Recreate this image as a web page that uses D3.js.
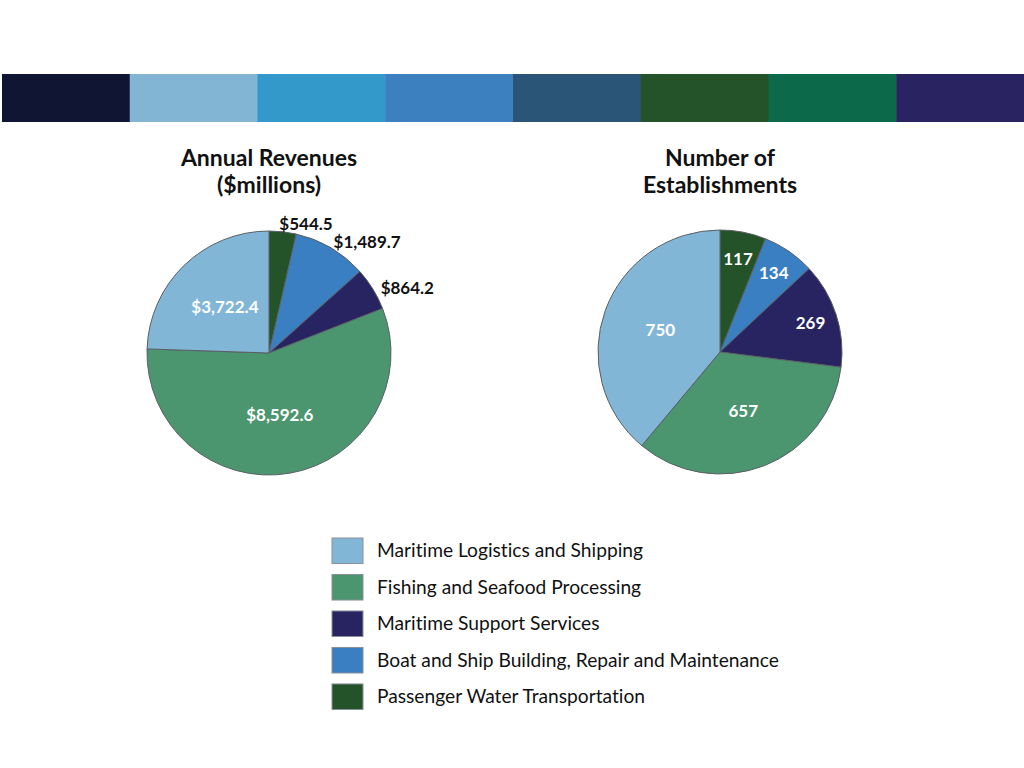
<!DOCTYPE html>
<html><head><meta charset="utf-8">
<script src="https://cdn.jsdelivr.net/npm/d3@7"></script>
<style>html,body{margin:0;padding:0;background:#fff;}svg{display:block;}text{font-variant-ligatures:none;font-feature-settings:"liga" 0;}</style>
</head><body>
<svg id="chart" width="1024" height="768"></svg>
<script>
const categories = ["Passenger Water Transportation","Boat and Ship Building, Repair and Maintenance","Maritime Support Services","Fishing and Seafood Processing","Maritime Logistics and Shipping"];
const revenues = [544.5, 1489.7, 864.2, 8592.6, 3722.4];
const revenueLabels = ["$544.5","$1,489.7","$864.2","$8,592.6","$3,722.4"];
const establishments = [117, 134, 269, 657, 750];
const establishmentLabels = ["117","134","269","657","750"];
const legendOrder = ["Maritime Logistics and Shipping","Fishing and Seafood Processing","Maritime Support Services","Boat and Ship Building, Repair and Maintenance","Passenger Water Transportation"];
const colors = ["#245229","#3a7fc2","#272461","#4b966f","#82b6d6"];
const bandColors = ["#0f1532","#82b5d4","#3399ca","#3c80bf","#2a5577","#245229","#0c6a4a","#2a2361"];

const svg = d3.select("#chart");
const W = 1024;
const font = "Lato, 'Open Sans', sans-serif";

// Top color band
const bandX = d3.scaleBand().domain(d3.range(bandColors.length)).range([2, W]).paddingInner(0);
svg.append("g").selectAll("rect").data(bandColors).join("rect")
  .attr("x", (d,i)=>bandX(i)).attr("y", 74).attr("width", bandX.bandwidth()+0.5).attr("height", 48)
  .attr("fill", d=>d);

const color = d3.scaleOrdinal().domain(categories).range(colors);
const R = 122;
const pie = d3.pie().sort(null).value(d=>d.v);
const arc = d3.arc().innerRadius(0).outerRadius(R);

function drawPie(cx, cy, titleLines, values, labels, outsideSmall) {
  const g = svg.append("g").attr("transform", `translate(${cx},${cy})`);
  const data = pie(values.map((v,i)=>({v, cat: categories[i], label: labels[i]})));
  g.selectAll("path").data(data).join("path")
    .attr("d", arc).attr("fill", d=>color(d.data.cat))
    .attr("stroke", "#5a5f66").attr("stroke-width", 1);
  const t = svg.append("text").attr("x", cx).attr("y", 166)
    .attr("text-anchor","middle").attr("font-family", font).attr("font-weight","bold")
    .attr("font-size", 23).attr("fill","#111");
  titleLines.forEach((l,i)=> t.append("tspan").attr("x", cx).attr("dy", i===0?0:27).text(l));
  data.forEach(d=>{
    const span = d.endAngle - d.startAngle;
    const mid = (d.startAngle + d.endAngle)/2;
    let x, y, anchor = "middle", fill = "#fff", dy = "0.35em";
    if (outsideSmall && span < 1.0) {
      const rr = R + 15;
      x = rr*Math.sin(mid) - 5; y = -rr*Math.cos(mid);
      anchor = "start"; fill = "#111"; dy = "0.75em";
    } else {
      const rr = span > 1.5 ? R*0.52 : R*0.78;
      x = rr*Math.sin(mid); y = -rr*Math.cos(mid);
    }
    g.append("text").attr("x", x).attr("y", y).attr("dy", dy)
      .attr("text-anchor", anchor).attr("font-family", font).attr("font-weight","bold")
      .attr("font-size", 17).attr("fill", fill).text(d.data.label);
  });
}

drawPie(269, 353, ["Annual Revenues","($millions)"], revenues, revenueLabels, true);
drawPie(720, 352, ["Number of","Establishments"], establishments, establishmentLabels, false);

// Legend
const ly = d3.scaleBand().domain(legendOrder).range([538, 709.5]).paddingInner(0.3);
const lg = svg.append("g");
lg.selectAll("rect").data(legendOrder).join("rect")
  .attr("x", 332).attr("y", d=>ly(d)).attr("width", 31).attr("height", ly.bandwidth())
  .attr("fill", d=>color(d)).attr("stroke","#8a9099").attr("stroke-width",1);
lg.selectAll("text").data(legendOrder).join("text")
  .attr("x", 377).attr("y", d=>ly(d)+ly.bandwidth()/2).attr("dy","0.35em")
  .attr("font-family", font).attr("font-size", 19.2).attr("fill","#111").text(d=>d);
</script>
</body></html>
